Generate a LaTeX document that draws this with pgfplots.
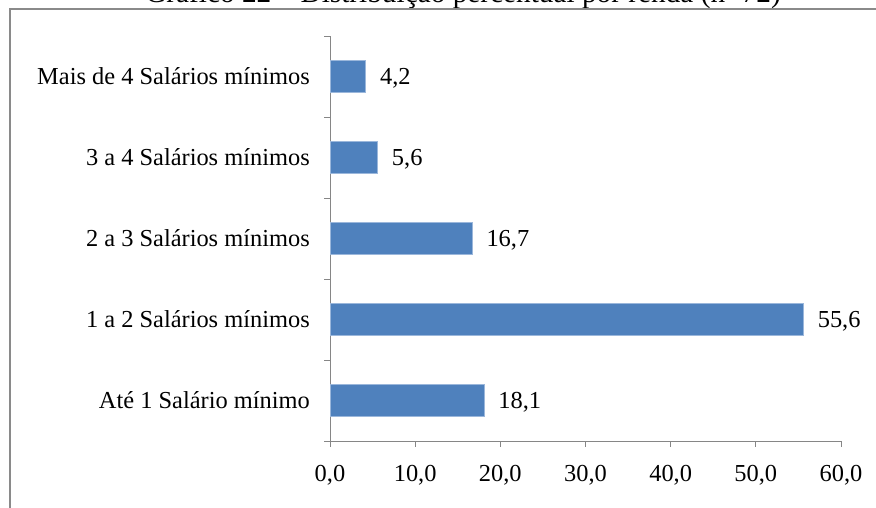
\documentclass[border=0pt]{standalone}
\usepackage{pgfplots}
\pgfplotsset{compat=1.18}
\usepackage{fontspec}
\setmainfont{Liberation Serif}
\definecolor{barblue}{HTML}{4F81BD}
\definecolor{baredge}{HTML}{9BB7DB}
\definecolor{axisgray}{HTML}{868686}
\definecolor{framegray}{HTML}{8A8A8A}
\begin{document}
\begin{tikzpicture}[x=1bp,y=1bp]
\begin{axis}[
  name=ax,
  scale only axis, width=511bp, height=405bp,
  xbar, bar width=32.4bp, bar shift=0pt,
  xmin=0, xmax=60, ymin=0.5, ymax=5.5,
  axis x line*=bottom, axis y line*=left,
  axis line style={axisgray, line width=0.9bp, -},
  xtick={0,10,...,60},
  minor xtick={0,10,...,60},
  ytick={1,2,3,4,5},
  yticklabels={Até 1 Salário mínimo,1 a 2 Salários mínimos,2 a 3 Salários mínimos,3 a 4 Salários mínimos,Mais de 4 Salários mínimos},
  minor ytick={0.5,1.5,...,5.5},
  tick align=outside,
  major tick length=0pt,
  minor tick length=6bp,
  every tick/.style={axisgray, line width=0.9bp},
  tick label style={font=\fontsize{24.5}{28}\selectfont, text=black},
  xticklabel style={/pgf/number format/.cd, assume math mode=true, use comma, fixed, fixed zerofill, precision=1,
                    /tikz/.cd, inner sep=0pt, yshift=-24bp},
  yticklabel style={anchor=east, inner sep=0pt, xshift=-20bp},
  nodes near coords,
  nodes near coords style={/pgf/number format/.cd, assume math mode=true, use comma, fixed, fixed zerofill, precision=1,
                    /tikz/.cd, anchor=west, inner sep=0pt, xshift=14bp, yshift=-2bp, font=\fontsize{24.5}{28}\selectfont, text=black},
  clip=false,
]
\addplot[fill=barblue, draw=baredge, line width=0.6bp] coordinates {
  (18.1,1) (55.6,2) (16.7,3) (5.6,4) (4.2,5)
};
\end{axis}
% page frame: lower-left corner of the page sits 330bp left of and 67bp below the plot area
\begin{scope}[shift={(ax.south west)}, xshift=-330bp, yshift=-67bp]
  \begin{scope}
    \clip (0,0) rectangle (876,508);
    \node[anchor=base, inner sep=0pt, font=\fontsize{29.4}{34}\selectfont]
      at (463,505) {Gráfico 22 – Distribuição percentual por renda (n=72)};
    \draw[framegray, line width=2bp] (10,-5) -- (10,498.5) -- (890,498.5);
  \end{scope}
  \pgfresetboundingbox
  \path[use as bounding box] (0,0) rectangle (876,508);
\end{scope}
\end{tikzpicture}
\end{document}
